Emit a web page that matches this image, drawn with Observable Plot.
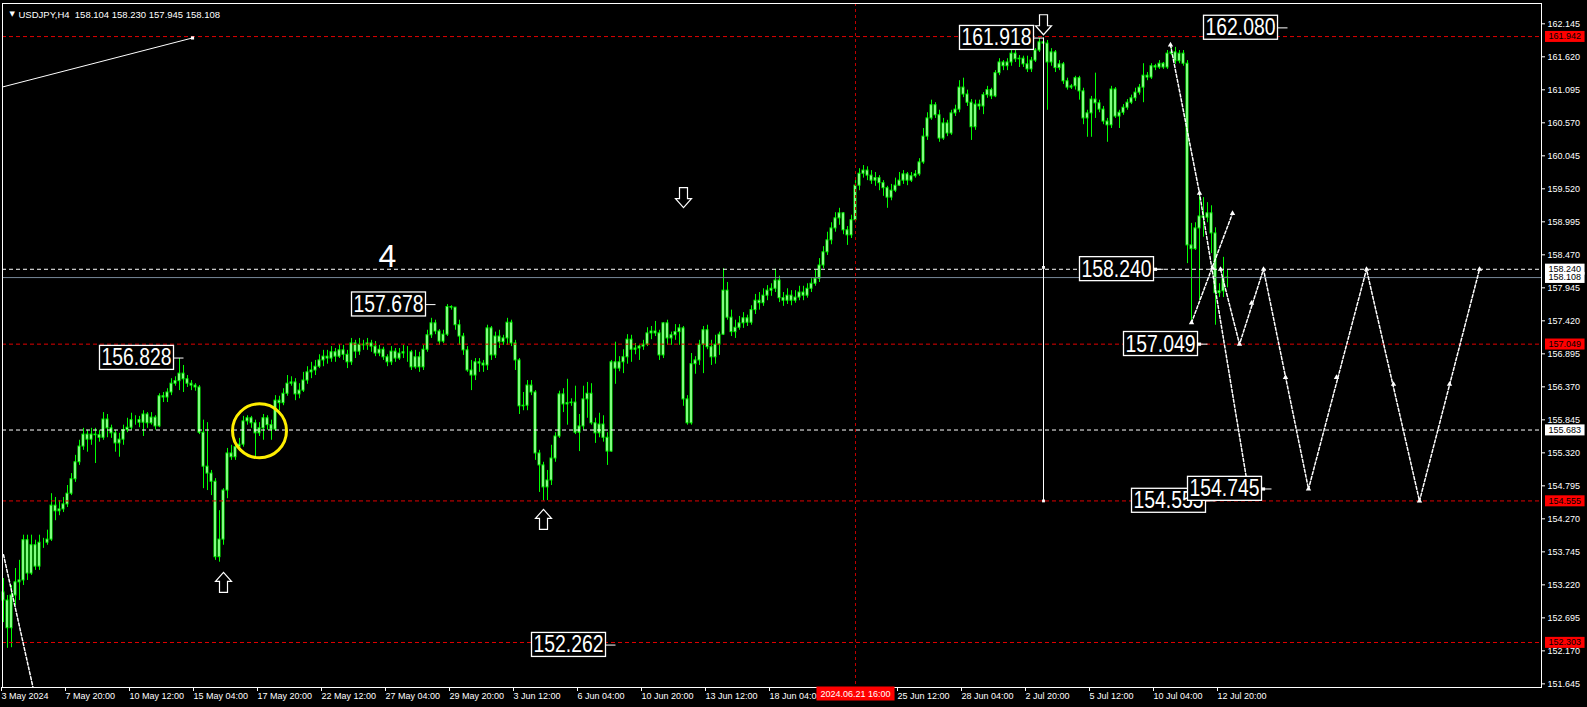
<!DOCTYPE html>
<html><head><meta charset="utf-8">
<script src="https://cdn.jsdelivr.net/npm/d3@7"></script>
<script src="https://cdn.jsdelivr.net/npm/@observablehq/plot@0.6"></script>
<style>html,body{margin:0;padding:0;background:#000;overflow:hidden}svg{display:block}</style>
</head><body><div id="chart"></div>
<script>
// ---- H4 candles (USDJPY), open of each bar = previous close ----
const firstOpen = 153.10;
const closes = [
152.97,152.53,153.05,153.26,153.29,153.93,153.40,153.85,153.51,153.89,
153.89,153.94,154.48,154.39,154.42,154.50,154.67,154.90,155.17,155.42,
155.61,155.53,155.61,155.60,155.56,155.85,155.71,155.63,155.47,155.53,
155.68,155.72,155.84,155.84,155.80,155.93,155.79,155.88,155.74,156.22,
156.20,156.28,156.42,156.46,156.58,156.49,156.42,156.39,156.36,155.64,
155.10,154.99,154.86,153.66,153.94,154.72,155.31,155.25,155.41,155.45,
155.82,155.87,155.79,155.63,155.71,155.87,155.76,155.69,156.15,156.11,
156.26,156.42,156.44,156.25,156.31,156.47,156.60,156.63,156.69,156.79,
156.85,156.82,156.92,156.85,156.95,156.88,156.76,157.06,156.93,157.04,
157.03,157.06,157.01,156.90,156.96,156.84,156.76,156.93,156.82,156.90,
156.92,156.92,156.68,156.84,156.68,156.96,157.19,157.38,157.25,157.09,
157.20,157.64,157.63,157.35,157.17,156.95,156.63,156.55,156.76,156.74,
156.71,157.30,156.87,157.17,157.08,157.14,157.39,157.06,156.79,156.06,
156.07,156.39,156.28,155.31,155.12,154.77,154.88,155.23,155.58,156.25,
156.09,156.11,156.12,155.64,155.74,156.17,156.26,155.79,155.63,155.77,
155.56,155.34,156.76,156.66,156.76,156.84,157.12,156.96,156.98,157.01,
157.04,157.22,157.25,157.22,156.87,157.38,157.14,157.19,157.24,157.30,
156.17,155.79,156.73,156.79,157.04,157.27,157.00,156.84,157.04,157.20,
157.90,157.47,157.24,157.31,157.38,157.46,157.39,157.59,157.74,157.70,
157.82,157.90,157.93,158.06,157.78,157.74,157.82,157.74,157.79,157.87,
157.82,157.93,158.01,158.09,158.30,158.51,158.70,158.89,159.05,159.13,
158.86,158.78,159.02,159.57,159.76,159.81,159.73,159.65,159.69,159.61,
159.53,159.38,159.49,159.57,159.65,159.75,159.65,159.72,159.75,159.94,
160.35,160.64,160.85,160.69,160.32,160.56,160.40,160.72,160.78,161.13,
161.02,160.89,160.50,160.86,160.83,161.01,161.09,160.99,161.36,161.53,
161.47,161.53,161.67,161.58,161.59,161.50,161.42,161.56,161.72,161.85,
161.83,161.53,161.69,161.44,161.50,161.23,161.13,161.15,161.28,161.07,
160.64,160.72,160.94,160.88,160.78,160.59,160.53,161.10,160.67,160.73,
160.81,160.89,160.96,161.05,161.13,161.32,161.29,161.47,161.45,161.51,
161.45,161.67,161.69,161.55,161.67,161.51,158.62,158.56,158.89,159.08,
159.06,159.13,158.81,157.86,157.89,158.104,158.108];
const highs = [
153.32,153.05,153.21,153.48,153.61,154.01,154.01,154.01,153.93,154.01,
153.96,154.09,154.67,154.61,154.56,154.61,154.80,154.99,155.28,155.52,
155.71,155.68,155.71,155.71,155.68,155.96,155.93,155.76,155.68,155.63,
155.76,155.87,155.95,155.91,155.90,155.99,155.96,155.96,155.91,156.26,
156.28,156.34,156.50,156.53,156.82,156.71,156.55,156.47,156.42,156.39,
155.84,155.80,155.04,154.91,154.40,154.75,155.39,155.44,155.52,155.55,
155.90,155.91,155.90,155.84,155.80,155.93,155.91,155.84,156.23,156.22,
156.34,156.55,156.53,156.50,156.42,156.60,156.69,156.76,156.79,156.88,
156.95,156.95,157.01,156.98,157.04,157.03,156.95,157.14,157.11,157.14,
157.11,157.14,157.11,157.09,157.03,157.00,156.88,157.01,156.98,156.98,
157.03,157.01,156.95,156.95,156.92,157.03,157.27,157.46,157.43,157.28,
157.27,157.678,157.66,157.62,157.43,157.22,157.01,156.79,156.82,156.82,
156.79,157.35,157.33,157.24,157.27,157.19,157.46,157.43,157.11,156.82,
156.28,156.47,156.47,156.31,155.36,155.17,155.04,155.44,155.64,156.30,
156.34,156.49,156.18,156.38,155.93,156.38,156.44,156.42,155.87,155.95,
155.91,155.64,156.79,157.08,156.85,156.96,157.20,157.19,157.06,157.03,
157.11,157.31,157.33,157.41,157.27,157.39,157.43,157.24,157.36,157.36,
157.33,156.23,156.90,156.85,157.11,157.33,157.35,157.11,157.19,157.24,
158.25,158.03,157.59,157.43,157.49,157.55,157.51,157.66,157.84,157.87,
157.93,157.98,158.01,158.24,158.13,157.87,157.93,157.90,157.90,157.97,
157.97,158.01,158.09,158.22,158.41,158.60,158.83,158.98,159.14,159.21,
159.14,158.92,159.10,159.65,159.84,159.89,159.87,159.81,159.78,159.73,
159.65,159.56,159.59,159.69,159.78,159.81,159.78,159.78,159.81,160.00,
160.48,160.73,160.93,160.89,160.77,160.64,160.61,160.77,160.85,161.24,
161.28,161.09,160.94,160.93,160.93,161.05,161.15,161.12,161.40,161.59,
161.56,161.59,161.72,161.75,161.64,161.63,161.63,161.61,161.75,161.91,
161.918,161.88,161.75,161.72,161.56,161.53,161.28,161.18,161.31,161.31,
161.12,160.77,160.99,161.36,160.93,160.83,160.64,161.15,161.13,160.77,
160.86,160.94,161.01,161.12,161.18,161.51,161.37,161.51,161.50,161.56,
161.53,161.72,161.77,161.77,161.72,161.72,161.56,158.97,158.98,159.45,
159.38,159.30,159.25,158.90,158.01,158.43,158.23];
const lows = [
152.62,152.21,152.22,152.89,152.97,153.21,153.29,153.37,153.45,153.45,
153.80,153.85,153.91,154.24,154.32,154.37,154.45,154.64,154.85,155.12,
155.36,155.33,155.44,155.15,155.49,155.52,155.56,155.55,155.33,155.25,
155.44,155.64,155.68,155.76,155.72,155.58,155.71,155.76,155.68,155.72,
156.12,156.12,156.23,156.38,156.31,156.28,156.36,156.31,156.30,155.61,
154.75,154.72,154.64,153.61,153.58,153.85,154.59,155.20,155.20,155.36,
155.41,155.76,155.71,155.25,155.58,155.52,155.68,155.52,155.66,155.99,
156.07,156.22,156.38,156.15,156.18,156.28,156.41,156.50,156.55,156.66,
156.69,156.73,156.76,156.76,156.82,156.79,156.66,156.71,156.82,156.87,
156.95,156.95,156.92,156.85,156.85,156.79,156.69,156.71,156.76,156.79,
156.82,156.76,156.63,156.65,156.60,156.63,156.92,157.14,157.20,157.03,
157.06,157.17,157.59,157.27,157.03,156.87,156.60,156.31,156.47,156.60,
156.60,156.63,156.79,156.82,156.98,157.03,157.03,157.01,156.63,155.93,
155.99,155.99,156.23,155.20,154.69,154.555,154.56,154.80,155.17,155.55,
155.96,155.76,156.06,155.61,155.34,155.68,155.87,155.76,155.47,155.56,
155.49,155.12,155.33,156.41,156.61,156.58,156.73,156.76,156.88,156.79,
156.95,157.01,157.12,157.17,156.79,156.82,157.03,157.03,157.11,157.03,
156.06,155.76,155.76,156.57,156.71,156.58,156.96,156.71,156.73,156.87,
157.19,157.43,157.17,157.14,157.27,157.30,157.33,157.35,157.52,157.59,
157.65,157.74,157.81,157.87,157.71,157.65,157.68,157.66,157.70,157.74,
157.74,157.78,157.87,157.97,158.03,158.25,158.46,158.63,158.83,158.94,
158.79,158.62,158.73,158.98,159.49,159.69,159.65,159.59,159.56,159.49,
159.40,159.21,159.33,159.46,159.56,159.59,159.57,159.62,159.69,159.72,
159.91,160.29,160.61,160.64,160.26,160.29,160.35,160.37,160.67,160.73,
160.97,160.83,160.29,160.45,160.77,160.70,160.96,160.94,160.97,161.32,
161.40,161.40,161.47,161.53,161.45,161.45,161.37,161.37,161.53,161.69,
161.78,160.77,161.47,161.37,161.40,161.18,161.09,161.10,161.09,160.93,
160.54,160.34,160.34,160.64,160.73,160.54,160.26,160.48,160.64,160.48,
160.69,160.77,160.86,160.91,161.01,160.89,161.24,161.26,161.40,161.42,
161.42,161.42,161.64,161.50,161.51,161.47,158.33,157.39,158.54,157.74,
158.75,158.98,158.49,157.35,157.79,157.79,157.945];

// ---- axes ----
const yTicks = [151.645,152.170,152.695,153.220,153.745,154.270,154.795,155.320,155.845,156.370,
  156.895,157.420,157.945,158.470,158.995,159.520,160.045,160.570,161.095,161.620,162.145];
const timeBars = [0,16,32,48,64,80,96,112,128,144,160,176,192,224,240,256,272,288,304];
const timeLabels = ["3 May 2024","7 May 20:00","10 May 12:00","15 May 04:00","17 May 20:00","22 May 12:00",
  "27 May 04:00","29 May 20:00","3 Jun 12:00","6 Jun 04:00","10 Jun 20:00","13 Jun 12:00","18 Jun 04:00",
  "25 Jun 12:00","28 Jun 04:00","2 Jul 20:00","5 Jul 12:00","10 Jul 04:00","12 Jul 20:00"];
const titleText = "USDJPY,H4  158.104 158.230 157.945 158.108";

// ---- horizontal levels ----
const redLevels = [161.942, 157.049, 154.555, 152.303];
const whiteLevels = [158.240, 155.683];
const bidLevel = 158.108;
const crossBar = 213;
const crossLabel = "2024.06.21 16:00";

// ---- boxed price labels: value and anchor bar ----
const boxValues = [156.828, 157.678, 161.918, 162.080, 158.240, 157.049, 154.555, 154.745, 152.262];
const boxBars   = [45, 108, 260, 321, 290, 301, 303, 317, 153];
const boxMarked = [158.240, 157.049, 154.745];

// ---- objects ----
const vLineBar = 260, vLineTop = 161.918, vLineBottom = 154.555, vLineMid = 158.27;
const trendBars = [-0.25, 47.25], trendPrices = [161.14, 161.92];
const leftDotBars = [0, 8], leftDotPrices = [153.70, 151.41];
const pathBBars = [291.75, 299, 310.75], pathBPrices = [161.81, 159.45, 154.91];
const pathCBars = [297, 307.25], pathCPrices = [157.39, 159.13];
const zigBars = [304.25, 309, 315, 326.25, 340.75, 354, 369];
const zigPrices = [158.24, 157.049, 158.24, 154.745, 158.24, 154.555, 158.24];
const markBars = [291.75, 299, 307.25, 302.25, 304.25, 297, 309, 312, 315, 320.5, 326.25, 333.25, 340.75, 347.5, 354, 361.5, 369];
const markPrices = [161.81, 159.45, 159.13, 158.26, 158.24, 157.39, 157.049, 157.70, 158.24, 156.52, 154.745, 156.52, 158.24, 156.41, 154.555, 156.41, 158.24];
const upArrowBars = [55, 135], upArrowPrices = [153.26, 154.26];
const downArrowBars = [170, 260], downArrowPrices = [159.38, 162.13];
const circleBar = 64, circlePrice = 155.67;
const bigTextBar = 96, bigTextPrice = 158.44, bigText = "4";

// ---- build tables ----
const bars = closes.map((c, i) => ({i, open: i ? closes[i - 1] : firstOpen, close: c, high: highs[i], low: lows[i]}));
const boxes = boxValues.map((p, k) => ({p, i: boxBars[k]}));
const pts = (xs, ys) => xs.map((x, k) => ({i: x, p: ys[k]}));

const upArrow = {draw(c) { c.moveTo(0,-10); c.lineTo(8,-1); c.lineTo(4,-1); c.lineTo(4,10); c.lineTo(-4,10); c.lineTo(-4,-1); c.lineTo(-8,-1); c.closePath(); }};
const downArrow = {draw(c) { c.moveTo(0,10); c.lineTo(8,1); c.lineTo(4,1); c.lineTo(4,-10); c.lineTo(-4,-10); c.lineTo(-4,1); c.lineTo(-8,1); c.closePath(); }};

const GREEN = "#00ff00", RED = "#e00000";

const svg = Plot.plot({
  width: 1587, height: 707,
  marginLeft: 2, marginRight: 46, marginTop: 3, marginBottom: 20,
  style: {background: "#000", color: "white", fontFamily: "Liberation Sans, Arial, sans-serif"},
  x: {type: "linear", domain: [-0.25, 384.5], label: null},
  y: {domain: [151.587, 162.468], label: null},
  marks: [
    // title
    Plot.text(["▼"], {frameAnchor: "top-left", dx: 7, dy: 8, fill: "white", fontSize: 7, textAnchor: "start", fontFamily: "DejaVu Sans"}),
    Plot.text([titleText], {frameAnchor: "top-left", dx: 16, dy: 8, fill: "white", fontSize: 9.5, textAnchor: "start"}),
    // candles
    Plot.ruleX(bars, {x: "i", y1: "low", y2: "high", stroke: GREEN, strokeWidth: 1}),
    Plot.rect(bars, {x1: d => d.i - 0.25, x2: d => d.i + 0.25, y1: d => Math.min(d.open, d.close), y2: d => Math.max(d.open, d.close), fill: "white", stroke: GREEN, strokeWidth: 1}),
    // levels
    Plot.ruleY(redLevels, {stroke: RED, strokeDasharray: "4,3"}),
    Plot.ruleY(whiteLevels, {stroke: "white", strokeDasharray: "4,3"}),
    Plot.ruleY([bidLevel], {stroke: "#778899"}),
    Plot.ruleX([crossBar], {stroke: "#c00000", strokeDasharray: "3,3"}),
    // vertical measuring line
    Plot.ruleX([{i: vLineBar, a: vLineTop, b: vLineBottom}], {x: "i", y1: "a", y2: "b", stroke: "white"}),
    Plot.dot([{i: vLineBar, p: vLineMid}, {i: vLineBar, p: vLineBottom}], {x: "i", y: "p", symbol: "square", r: 1.6, fill: "white"}),
    // trend line top-left
    Plot.line(pts(trendBars, trendPrices), {x: "i", y: "p", stroke: "white", strokeWidth: 1}),
    Plot.dot([{i: trendBars[1], p: trendPrices[1]}], {x: "i", y: "p", symbol: "square", r: 1.8, fill: "white"}),
    // projections
    Plot.line(pts(leftDotBars, leftDotPrices), {x: "i", y: "p", stroke: "white", strokeDasharray: "3,2", clip: true}),
    Plot.line(pts(pathBBars, pathBPrices), {x: "i", y: "p", stroke: "white", strokeDasharray: "3,2"}),
    Plot.line(pts(pathCBars, pathCPrices), {x: "i", y: "p", stroke: "white", strokeDasharray: "3,2"}),
    Plot.line(pts(zigBars, zigPrices), {x: "i", y: "p", stroke: "white", strokeDasharray: "3,2"}),
    Plot.dot(pts(markBars, markPrices), {x: "i", y: "p", symbol: "triangle", r: 2, fill: "white"}),
    // arrows, ellipse, number
    Plot.dot(pts(upArrowBars, upArrowPrices), {x: "i", y: "p", symbol: upArrow, fill: "black", stroke: "white", strokeWidth: 1.2}),
    Plot.dot(pts(downArrowBars, downArrowPrices), {x: "i", y: "p", symbol: downArrow, fill: "black", stroke: "white", strokeWidth: 1.2}),
    Plot.dot([{i: circleBar, p: circlePrice}], {x: "i", y: "p", r: 27, stroke: "#ffee00", strokeWidth: 3, fill: "none"}),
    Plot.text([{i: bigTextBar, p: bigTextPrice}], {x: "i", y: "p", text: () => bigText, fill: "white", fontSize: 32}),
    // boxed labels
    Plot.link(boxes, {x1: d => d.i - 2.5, x2: "i", y1: "p", y2: "p", stroke: "white"}),
    Plot.dot(boxes.filter(d => boxMarked.includes(d.p)), {x: "i", y: "p", dx: -8, symbol: "square", r: 1.8, fill: "white"}),
    Plot.text(boxes, {x: "i", y: "p", text: d => d.p.toFixed(3), textAnchor: "end", dx: -12, fill: "white", fontSize: 23, className: "vbox", ariaLabel: "vbox"}),
    // axes
    Plot.axisY({anchor: "right", ticks: yTicks, tickFormat: d => d.toFixed(3), tickSize: 3, tickPadding: 3, fontSize: 9, fill: "white", stroke: "white", label: null}),
    Plot.axisX({anchor: "bottom", ticks: timeBars, tickFormat: d => timeLabels[timeBars.indexOf(d)], tickSize: 4, tickPadding: 1, textAnchor: "start", dx: -2, fontSize: 9, fill: "white", stroke: "white", label: null}),
    Plot.frame({stroke: "white"}),
    // axis price boxes
    Plot.text(redLevels, {frameAnchor: "right", y: d => d, text: d => d.toFixed(3), dx: 7, textAnchor: "start", fill: "black", fontSize: 9, className: "redbox", ariaLabel: "redbox"}),
    Plot.text([...whiteLevels, bidLevel], {frameAnchor: "right", y: d => d, text: d => d.toFixed(3), dx: 7, textAnchor: "start", fill: "black", fontSize: 9, className: "whitebox", ariaLabel: "whitebox"}),
    Plot.text([{i: crossBar}], {x: "i", frameAnchor: "bottom", text: () => crossLabel, dy: 9, fill: "white", fontSize: 9, className: "timebox", ariaLabel: "timebox"})
  ]
});
document.getElementById("chart").appendChild(svg);

function addBoxes(label, fill, stroke, padX, h, len) {
  const set = new Set();
  svg.querySelectorAll(`g.${label} text, g[aria-label="${label}"] text, text[aria-label="${label}"]`).forEach(t => set.add(t));
  set.forEach(t => {
    if (len) { t.setAttribute("textLength", len); t.setAttribute("lengthAdjust", "spacingAndGlyphs"); }
    const b = t.getBBox();
    const r = document.createElementNS("http://www.w3.org/2000/svg", "rect");
    r.setAttribute("x", b.x - padX);
    r.setAttribute("y", b.y + b.height / 2 - h / 2);
    r.setAttribute("width", b.width + 2 * padX);
    r.setAttribute("height", h);
    r.setAttribute("fill", fill);
    r.setAttribute("stroke", stroke || "none");
    if (stroke) r.setAttribute("stroke-width", 1.3);
    const tr = t.getAttribute("transform");
    if (tr) r.setAttribute("transform", tr);
    t.parentNode.insertBefore(r, t);
  });
}
addBoxes("vbox", "black", "white", 2, 24, 70);
addBoxes("redbox", "#ff0000", null, 3.5, 11, 0);
addBoxes("whitebox", "white", null, 3.5, 11, 0);
addBoxes("timebox", "#ff0000", null, 4, 14, 0);
</script>
</body></html>
